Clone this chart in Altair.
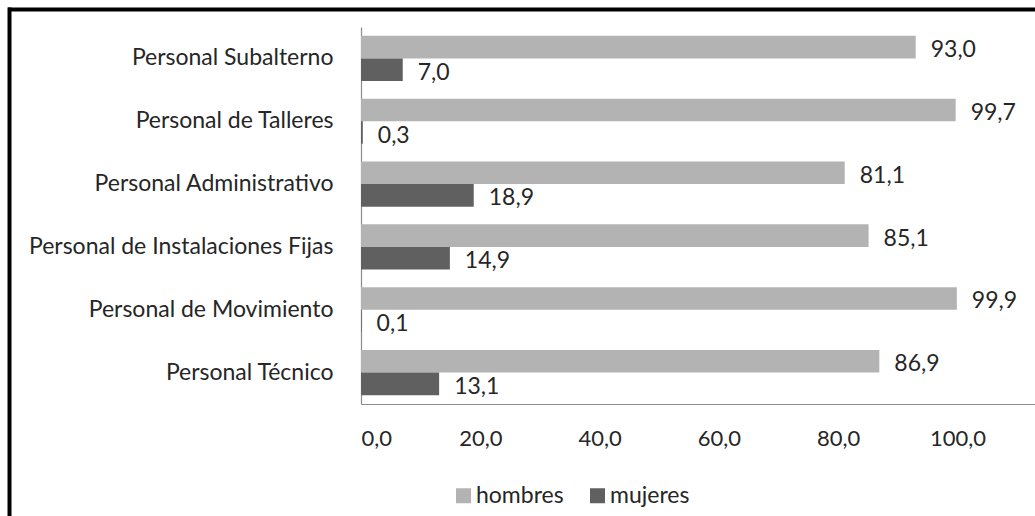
import altair as alt
import pandas as pd

categories = [
    "Personal Subalterno",
    "Personal de Talleres",
    "Personal Administrativo",
    "Personal de Instalaciones Fijas",
    "Personal de Movimiento",
    "Personal Técnico",
]
hombres = [93.0, 99.7, 81.1, 85.1, 99.9, 86.9]
mujeres = [7.0, 0.3, 18.9, 14.9, 0.1, 13.1]
series = ["hombres", "mujeres"]
x_ticks = [0, 20, 40, 60, 80, 100]

rows = []
for c, h, m in zip(categories, hombres, mujeres):
    rows.append({"cat": c, "serie": "hombres", "v": h})
    rows.append({"cat": c, "serie": "mujeres", "v": m})
df = pd.DataFrame(rows)
df["label"] = df["v"].map(lambda v: f"{v:.1f}".replace(".", ","))

FONT = "Lato"
TXT = "#262626"
FS = 23

y_enc = alt.Y(
    "cat:N",
    sort=categories,
    scale=alt.Scale(paddingInner=0.28, paddingOuter=0.14),
    axis=alt.Axis(
        title=None, ticks=False, labelPadding=28, labelFontSize=FS, labelFont=FONT,
        labelColor=TXT, domainColor="#8c8c8c", domainWidth=1.2, labelLimit=400,
    ),
)
yoff = alt.YOffset("serie:N", sort=series)
x_enc = alt.X(
    "v:Q",
    scale=alt.Scale(domain=[0, 113], nice=False),
    axis=alt.Axis(
        title=None, values=x_ticks, ticks=False, grid=False,
        labelExpr="replace(format(datum.value,'.1f'),'.',',')",
        labelPadding=24, labelFontSize=FS - 1, labelFont=FONT, labelColor=TXT,
        domainColor="#8c8c8c", domainWidth=1.2,
    ),
)

base = alt.Chart(df)
bars = base.mark_bar().encode(
    y=y_enc,
    yOffset=yoff,
    x=x_enc,
    color=alt.Color(
        "serie:N",
        sort=series,
        scale=alt.Scale(domain=series, range=["#b3b3b3", "#606060"]),
        legend=alt.Legend(
            title=None, orient="none", legendX=91, legendY=457, direction="horizontal",
            symbolType="square", symbolSize=225, symbolStrokeWidth=0,
            labelFontSize=FS, labelFont=FONT, labelColor=TXT, columnPadding=22, labelOffset=1,
        ),
    ),
)
labels = base.mark_text(
    align="left", baseline="middle", dx=15, dy=3, fontSize=FS, font=FONT, color=TXT
).encode(
    y=alt.Y("cat:N", sort=categories),
    yOffset=yoff,
    x=alt.X("v:Q"),
    text="label:N",
)

frame_df = pd.DataFrame({"a": [0]})
top_rule = alt.Chart(frame_df).mark_rule(color="black", strokeWidth=4).encode(
    x=alt.value(-353), x2=alt.value(700), y=alt.value(-17.5)
)
left_rule = alt.Chart(frame_df).mark_rule(color="black", strokeWidth=4).encode(
    x=alt.value(-351.5), y=alt.value(-19.5), y2=alt.value(520)
)

chart = alt.layer(bars, labels, top_rule, left_rule).properties(
    width=674,
    height=377,
    autosize=alt.AutoSizeParams(type="none"),
    padding={"left": 361, "top": 27, "right": 0, "bottom": 112},
    background="white",
).configure_view(stroke=None)

chart.save("out.html", embed_options={"renderer": "svg", "actions": False})
